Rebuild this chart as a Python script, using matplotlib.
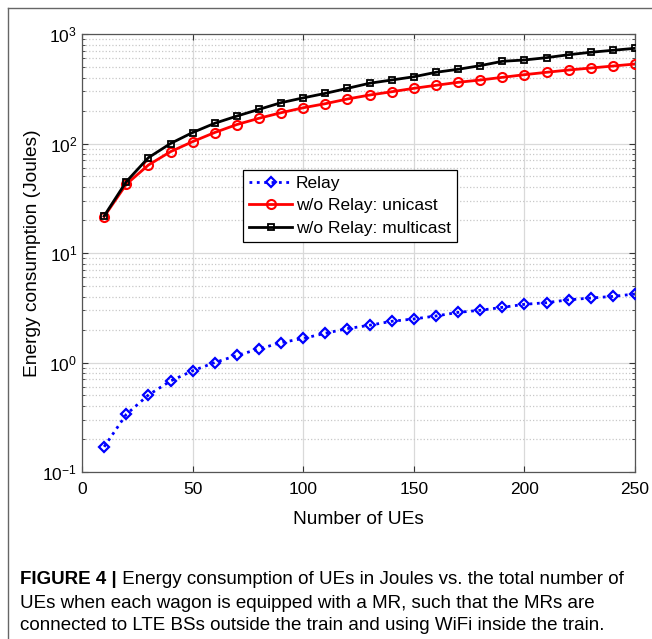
import matplotlib.pyplot as plt
from matplotlib import font_manager
from matplotlib.lines import Line2D
from matplotlib.ticker import LogLocator, NullFormatter

installed = {f.name for f in font_manager.fontManager.ttflist}
base_font = 'Liberation Sans' if 'Liberation Sans' in installed else 'DejaVu Sans'
plt.rcParams['font.family'] = [base_font, 'DejaVu Sans']
plt.rcParams['mathtext.default'] = 'regular'
plt.rcParams['axes.unicode_minus'] = False

# number of UEs
num_ues = [10, 20, 30, 40, 50, 60, 70, 80, 90, 100, 110, 120, 130,
           140, 150, 160, 170, 180, 190, 200, 210, 220, 230, 240, 250]

# energy consumption (Joules)
relay = [0.17, 0.336, 0.505, 0.678, 0.84, 1.0, 1.16, 1.33, 1.52, 1.66, 1.85, 2.04, 2.19,
         2.38, 2.50, 2.66, 2.87, 3.0, 3.19, 3.40, 3.52, 3.74, 3.88, 4.02, 4.22]
unicast = [21.5, 42.4, 63.6, 84.2, 104, 126, 149, 170, 191, 212, 231, 255, 277,
           297, 319, 340, 362, 380, 402, 425, 447, 469, 489, 510, 532]
multicast = [21.8, 44.8, 74.2, 100, 126, 153, 178, 205, 236, 261, 287, 319, 355,
             380, 407, 447, 476, 514, 563, 579, 608, 647, 681, 710, 740]

series_labels = ['Relay', 'w/o Relay: unicast', 'w/o Relay: multicast']
x_ticks = [0, 50, 100, 150, 200, 250]

caption_bold = 'FIGURE 4 |'
caption_lines = [
    ' Energy consumption of UEs in Joules vs. the total number of',
    'UEs when each wagon is equipped with a MR, such that the MRs are',
    'connected to LTE BSs outside the train and using WiFi inside the train.',
]

fig = plt.figure(figsize=(6.52, 6.39), dpi=100)
ax = fig.add_axes([0.1258, 0.2613, 0.8482, 0.6855])

ax.plot(num_ues, relay, color='blue', linestyle=':', linewidth=2,
        marker='D', markersize=5.5, markerfacecolor='none', markeredgewidth=1.6,
        label=series_labels[0], zorder=4)
ax.plot(num_ues, unicast, color='red', linestyle='-', linewidth=2,
        marker='o', markersize=6.5, markerfacecolor='none', markeredgewidth=1.5,
        label=series_labels[1], zorder=4)
ax.plot(num_ues, multicast, color='black', linestyle='-', linewidth=2,
        marker='s', markersize=5, markerfacecolor='none', markeredgewidth=1.3,
        label=series_labels[2], zorder=5)

ax.set_yscale('log')
ax.set_ylim(0.1, 1000)
ax.set_xlim(0, 250)
ax.set_xticks(x_ticks)
ax.yaxis.set_major_locator(LogLocator(base=10, numticks=10))
ax.yaxis.set_minor_locator(LogLocator(base=10, subs=range(2, 10), numticks=20))
ax.yaxis.set_minor_formatter(NullFormatter())

# MATLAB-like grid: solid major, dotted minor
ax.grid(True, which='major', color='#d9d9d9', linestyle='-', linewidth=0.9, zorder=0)
ax.grid(True, which='minor', axis='y', color='#c8c8c8', linestyle=':', linewidth=0.9, zorder=0)
ax.set_axisbelow(True)

ax.tick_params(which='both', direction='in', top=True, right=True,
               labelsize=12.5, colors='#333333', labelcolor='black')
ax.tick_params(which='major', length=4)
ax.tick_params(which='minor', length=2.5)
ax.tick_params(axis='x', pad=7)
for spine in ax.spines.values():
    spine.set_color('#555555')
    spine.set_linewidth(0.9)

ax.set_xlabel('Number of UEs', fontsize=13.8, labelpad=10)
ax.set_ylabel('Energy consumption (Joules)', fontsize=13.8, labelpad=1)

leg = ax.legend(loc='upper left', bbox_to_anchor=(0.291, 0.69), borderaxespad=0,
                fontsize=12.5, frameon=True, fancybox=False, edgecolor='black',
                framealpha=1, handlelength=2.5, handletextpad=0.2,
                labelspacing=0.42, borderpad=0.35)
leg.get_frame().set_linewidth(0.9)

# outer page border (top and left only)
fig.add_artist(Line2D([8 / 652, 1], [1 - 8 / 639, 1 - 8 / 639], transform=fig.transFigure,
                      color='#666666', linewidth=1))
fig.add_artist(Line2D([8 / 652, 8 / 652], [0, 1 - 8 / 639], transform=fig.transFigure,
                      color='#666666', linewidth=1))

# caption
cap_x = 20 / 652
cap_size = 13.5
t = fig.text(cap_x, 1 - 579 / 639, caption_bold, fontsize=cap_size, fontweight='bold',
             va='center', ha='left')
fig.canvas.draw()
bb = t.get_window_extent()
fig.text(bb.x1 / fig.bbox.width, 1 - 579 / 639, caption_lines[0], fontsize=cap_size,
         va='center', ha='left')
fig.text(cap_x, 1 - 603 / 639, caption_lines[1], fontsize=cap_size, va='center', ha='left')
fig.text(cap_x, 1 - 626 / 639, caption_lines[2], fontsize=cap_size, va='center', ha='left')

fig.savefig('out.png', dpi=100)
